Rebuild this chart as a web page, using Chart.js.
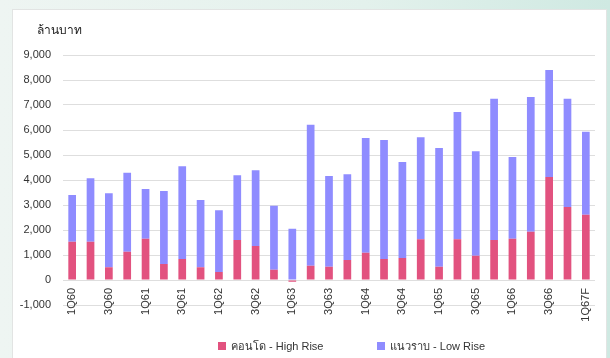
<!DOCTYPE html>
<html>
<head>
<meta charset="utf-8">
<script src="https://cdn.jsdelivr.net/npm/chart.js@4"></script>
<style>
  html, body { margin: 0; padding: 0; }
  body {
    width: 610px; height: 358px; overflow: hidden; position: relative;
    background: linear-gradient(to right, #eef5f2 0%, #e3f1ec 60%, #cfe9e2 100%);
    font-family: "Liberation Sans", Arial, sans-serif;
  }
  #panel {
    position: absolute; left: 12px; top: 9px; width: 593px; height: 360px;
    background: #fff; border: 1px solid #e2e4e3;
  }
  #chart { position: absolute; left: 0; top: 0; }
  .lg-item {
    position: absolute; top: 337px; display: flex; align-items: center;
    font-size: 11px; color: #333; white-space: nowrap;
  }
  .lg-box { width: 8px; height: 8px; margin-right: 5px; }
</style>
</head>
<body>
<div id="panel"></div>
<canvas id="chart" width="610" height="358"></canvas>
<div id="legend"></div>

<script>
// ==================================== DATA ============================================

const categories = [
  "1Q60", "2Q60", "3Q60", "4Q60",
  "1Q61", "2Q61", "3Q61", "4Q61",
  "1Q62", "2Q62", "3Q62", "4Q62",
  "1Q63", "2Q63", "3Q63", "4Q63",
  "1Q64", "2Q64", "3Q64", "4Q64",
  "1Q65", "2Q65", "3Q65", "4Q65",
  "1Q66", "2Q66", "3Q66", "4Q66",
  "1Q67F",
];

// คอนโด - High Rise (ล้านบาท)
const highRise = [
  1530, 1530, 510, 1130,
  1650, 640, 840, 510,
  320, 1600, 1360, 410,
  -70, 570, 530, 800,
  1090, 840, 880, 1630,
  530, 1630, 970, 1600,
  1650, 1930, 4120, 2920,
  2610,
];

// แนวราบ - Low Rise (ล้านบาท)
const lowRise = [
  1870, 2540, 2960, 3160,
  1990, 2920, 3710, 2690,
  2470, 2590, 3030, 2560,
  2050, 5640, 3630, 3430,
  4590, 4760, 3840, 4080,
  4750, 5090, 4180, 5650,
  3270, 5390, 4280, 4330,
  3320,
];

const seriesNames = ["คอนโด - High Rise", "แนวราบ - Low Rise"];
const unitLabel = "ล้านบาท";
const yMin = -1000;
const yMax = 9000;
const yStep = 1000;

// ==================================== CHART ============================================

const FONT = "'Liberation Sans', Arial, sans-serif";
const colors = ["#E2527F", "#8F8CFF"];

// unit title drawn above the y axis
const unitTitle = {
  id: "unitTitle",
  afterDraw(chart) {
    const ctx = chart.ctx;
    ctx.save();
    ctx.font = "12px " + FONT;
    ctx.fillStyle = "#222";
    ctx.textBaseline = "middle";
    ctx.fillText(unitLabel, 37, 31);
    ctx.restore();
  },
};

const chart = new Chart(document.getElementById("chart"), {
  type: "bar",
  data: {
    labels: categories,
    datasets: [
      { label: seriesNames[0], data: highRise, backgroundColor: colors[0] },
      { label: seriesNames[1], data: lowRise, backgroundColor: colors[1] },
    ],
  },
  options: {
    responsive: false,
    animation: false,
    devicePixelRatio: 1,
    categoryPercentage: 1,
    barPercentage: 0.42,
    layout: { padding: { left: 0, right: 15, top: 55, bottom: 53 } },
    plugins: {
      legend: { display: false },
      tooltip: { enabled: false },
    },
    scales: {
      x: {
        stacked: true,
        position: { y: 0 },
        grid: { display: false, drawTicks: false },
        border: { display: false },
        ticks: {
          autoSkip: false,
          minRotation: 90,
          maxRotation: 90,
          padding: 8,
          color: "#333",
          font: { family: FONT, size: 11 },
          callback: (v, i) => (i % 2 === 0 ? categories[i] : ""),
        },
      },
      y: {
        stacked: true,
        min: yMin,
        max: yMax,
        grid: { color: "#dedede", drawTicks: false },
        border: { display: false },
        ticks: {
          stepSize: yStep,
          padding: 12,
          color: "#333",
          font: { family: FONT, size: 11 },
          callback: (v) => v.toLocaleString("en-US"),
        },
        afterFit: (scale) => {
          scale.width = 63;
        },
      },
    },
  },
  plugins: [unitTitle],
});

// ==================================== LEGEND ============================================

const legendX = [218, 377];
const legend = document.getElementById("legend");
chart.data.datasets.forEach((ds, i) => {
  const item = document.createElement("div");
  item.className = "lg-item";
  item.style.left = legendX[i] + "px";
  item.innerHTML = `<span class="lg-box" style="background:${ds.backgroundColor}"></span><span>${ds.label}</span>`;
  legend.appendChild(item);
});
</script>
</body>
</html>
